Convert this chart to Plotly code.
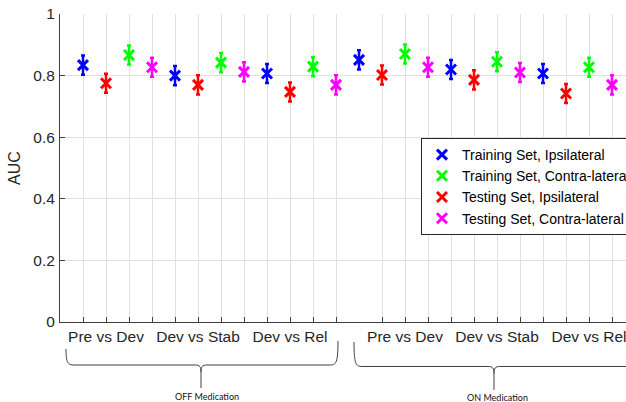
import plotly.graph_objects as go

# AUC per comparison; order within each comparison: positions 1..4 of a block of four
comparisons = ["Pre vs Dev", "Dev vs Stab", "Dev vs Rel"]
conditions = ["OFF Medication", "ON Medication"]

series_names = [
    "Training Set, Ipsilateral",
    "Training Set, Contra-lateral",
    "Testing Set, Ipsilateral",
    "Testing Set, Contra-lateral",
]
series_colors = ["#0000ff", "#00ff00", "#ff0000", "#ff00ff"]
# slot of each series inside a block of four markers
series_slot = [0, 2, 1, 3]

# values: OFF (Pre/Dev, Dev/Stab, Dev/Rel) then ON (same order)
train_ipsi = [0.834, 0.800, 0.807, 0.851, 0.820, 0.807]
train_contra = [0.867, 0.842, 0.829, 0.870, 0.845, 0.827]
test_ipsi = [0.775, 0.770, 0.747, 0.802, 0.786, 0.742]
test_contra = [0.827, 0.812, 0.770, 0.827, 0.810, 0.770]
err = [0.031, 0.031, 0.031, 0.031, 0.031, 0.031]

all_values = [train_ipsi, train_contra, test_ipsi, test_contra]

# x positions: OFF blocks start at 1, 5, 9; ON blocks start at 13, 17, 21
block_starts = [1, 5, 9, 13, 17, 21]

# axis ticks (no tick at 13) and label positions
tick_positions = list(range(1, 13)) + list(range(14, 25))
label_positions = {2: "Pre vs Dev", 6: "Dev vs Stab", 10: "Dev vs Rel",
                   15: "Pre vs Dev", 19: "Dev vs Stab", 23: "Dev vs Rel"}

W, H = 626, 402
ML, MR, MT, MB = 60, 0, 14, 80
PW, PH = W - ML - MR, H - MT - MB


def px(xp, yp):
    """pixel position -> paper coordinates"""
    return (xp - ML) / PW, (H - MB - yp) / PH


fig = go.Figure()
for name, color, slot, vals in zip(series_names, series_colors, series_slot, all_values):
    fig.add_trace(go.Scatter(
        x=[s + slot for s in block_starts],
        y=vals,
        mode="markers",
        name=name,
        marker=dict(symbol="x-thin", size=10, color=color,
                    line=dict(width=3, color=color)),
        error_y=dict(type="data", array=err, visible=True,
                     color=color, thickness=2.5, width=2),
    ))

grid = "#e0e0e0"
axis_col = "#404040"
tick_font = dict(family="Liberation Sans, Arial", size=15.5, color="#262626")
fig.update_xaxes(
    range=[0, PW / 23], tickvals=tick_positions,
    ticktext=[label_positions.get(t, "") for t in tick_positions],
    ticklabeloverflow="allow",
    showgrid=True, gridcolor=grid, gridwidth=1,
    showline=True, linecolor=axis_col, linewidth=1,
    ticks="inside", ticklen=5, tickcolor=axis_col,
    tickfont=tick_font,
    zeroline=False,
)
fig.update_yaxes(
    range=[0, 1], tickvals=[0, 0.2, 0.4, 0.6, 0.8, 1],
    ticktext=["0", "0.2", "0.4", "0.6", "0.8", "1"],
    showgrid=True, gridcolor=grid, gridwidth=1,
    showline=True, linecolor=axis_col, linewidth=1,
    ticks="inside", ticklen=5, tickcolor=axis_col,
    ticklabelstandoff=1,
    tickfont=tick_font,
    title=dict(text="AUC", font=dict(family="Liberation Sans, Arial", size=16, color="#262626"),
               standoff=8),
    zeroline=False,
)

# curly braces grouping the two medication conditions
line_style = dict(color="#404040", width=1)


def brace(x_left, y_left, x_right, y_right, x_tip, y_bar, y_tip):
    def P(a, b):
        u, v = px(a, b)
        return f"{u:.5f},{v:.5f}"
    path = (
        f"M {P(x_left, y_left)} "
        f"C {P(x_left, y_bar - 2)} {P(x_left + 2, y_bar)} {P(x_left + 8, y_bar)} "
        f"L {P(x_tip - 6, y_bar)} "
        f"C {P(x_tip - 1, y_bar)} {P(x_tip, y_bar + 2)} {P(x_tip, y_bar + 7)} "
        f"L {P(x_tip, y_tip)} "
        f"M {P(x_tip, y_bar + 7)} "
        f"C {P(x_tip, y_bar + 2)} {P(x_tip + 1, y_bar)} {P(x_tip + 6, y_bar)} "
        f"L {P(x_right - 8, y_bar)} "
        f"C {P(x_right - 2, y_bar)} {P(x_right, y_bar - 2)} {P(x_right, y_right)}"
    )
    return dict(type="path", path=path, xref="paper", yref="paper", line=line_style)


fig.add_shape(**brace(66, 349, 338, 341, 201, 365, 388))
fig.add_shape(**brace(354, 342, 640, 342, 494, 366.5, 390))

note_font = dict(family="Lato, Noto Sans", size=9, color="#111111")
for text, (cx, cy) in zip(conditions, [(207, 396), (497, 397)]):
    u, v = px(cx, cy)
    fig.add_annotation(text=text, x=u, y=v, xref="paper", yref="paper",
                       showarrow=False, font=note_font, xanchor="center", yanchor="middle")

lx, ly = px(421, 138)
fig.update_layout(
    width=W, height=H,
    margin=dict(l=ML, r=MR, t=MT, b=MB, autoexpand=False),
    paper_bgcolor="white", plot_bgcolor="white",
    showlegend=True,
    legend=dict(x=lx, y=ly, xanchor="left", yanchor="top",
                bgcolor="white", bordercolor="#262626", borderwidth=1,
                font=dict(family="Liberation Sans, Arial", size=14, color="#000000")),
)

fig.write_html("out.html")
